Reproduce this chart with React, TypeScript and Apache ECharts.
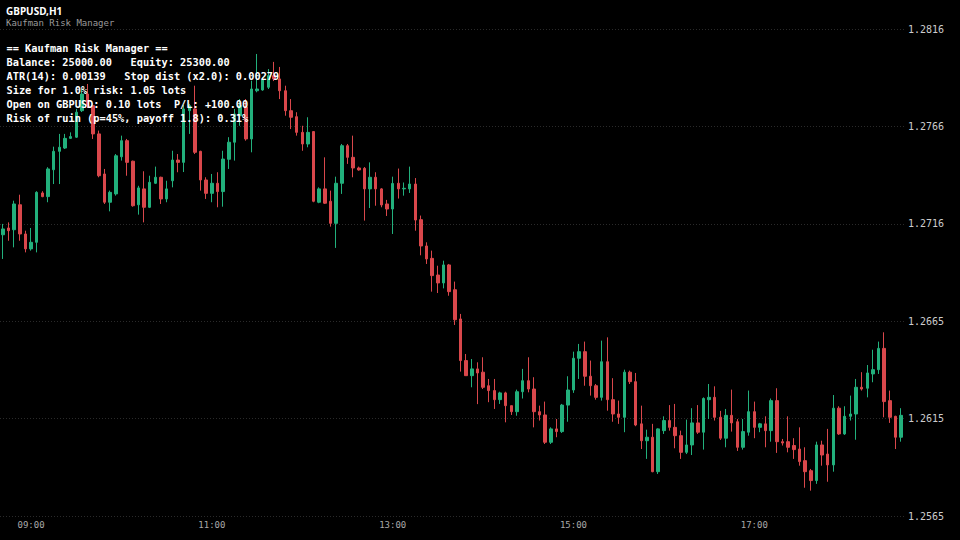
import React, { useEffect, useRef } from "react";
import * as echarts from "echarts";

const symbolTitle = "GBPUSD,H1";
const indicatorName = "Kaufman Risk Manager";
const infoLines = [
  "== Kaufman Risk Manager ==",
  "Balance: 25000.00   Equity: 25300.00",
  "ATR(14): 0.00139   Stop dist (x2.0): 0.00279",
  "Size for 1.0% risk: 1.05 lots",
  "Open on GBPUSD: 0.10 lots  P/L: +100.00",
  "Risk of ruin (p=45%, payoff 1.8): 0.31%",
];

const timeLabels = ["09:00", "11:00", "13:00", "15:00", "17:00"];
const timeLabelBars = [5, 37, 69, 101, 133];

const priceTicks = [1.25646, 1.261492, 1.266524, 1.271556, 1.276588, 1.28162];

const opens = [
  1.27099, 1.27134, 1.27125, 1.27254, 1.27103, 1.27026, 1.2706, 1.27315, 1.27296, 1.27435,
  1.2753, 1.27547, 1.27597, 1.27603, 1.2774, 1.27826, 1.27766, 1.2762, 1.27413, 1.27267,
  1.2731, 1.27502, 1.27585, 1.27479, 1.27254, 1.27336, 1.27241, 1.27365, 1.27396, 1.27284,
  1.27378, 1.27485, 1.27473, 1.2774, 1.27749, 1.2753, 1.27382, 1.27313, 1.27365, 1.27322,
  1.27489, 1.27577, 1.27714, 1.27759, 1.27594, 1.27843, 1.27847, 1.27861, 1.27921, 1.27904,
  1.27843, 1.2774, 1.27709, 1.27628, 1.27568, 1.27632, 1.27267, 1.27336, 1.27272, 1.27158,
  1.27365, 1.27559, 1.27499, 1.27444, 1.27442, 1.27336, 1.27396, 1.27336, 1.27258, 1.27232,
  1.27365, 1.27336, 1.27336, 1.27361, 1.27177, 1.27041, 1.26977, 1.26891, 1.2685, 1.26943,
  1.26815, 1.26664, 1.26449, 1.26371, 1.26406, 1.26389, 1.26319, 1.26294, 1.26247, 1.26282,
  1.26216, 1.26185, 1.26288, 1.26345, 1.26302, 1.26185, 1.26168, 1.26027, 1.26096, 1.26082,
  1.26219, 1.26297, 1.26461, 1.26495, 1.26368, 1.26319, 1.26259, 1.26443, 1.26247, 1.26173,
  1.26156, 1.26389, 1.2634, 1.26122, 1.26035, 1.26053, 1.25875, 1.26087, 1.26139, 1.26104,
  1.26061, 1.25975, 1.26013, 1.26127, 1.26079, 1.26247, 1.26259, 1.26156, 1.26048, 1.26166,
  1.26133, 1.26001, 1.26079, 1.26185, 1.26104, 1.26122, 1.26087, 1.26242, 1.2603, 1.2603,
  1.2601, 1.25992, 1.25932, 1.2588, 1.25829, 1.26013, 1.25966, 1.2591, 1.26203, 1.2607,
  1.26161, 1.26173, 1.26311, 1.26306, 1.2638, 1.26402, 1.26512, 1.26242, 1.26161, 1.26053,
];

const closes = [
  1.27129, 1.2712, 1.27258, 1.27103, 1.27026, 1.2706, 1.27318, 1.27296, 1.27439, 1.2753,
  1.27551, 1.27597, 1.27606, 1.27732, 1.27826, 1.27766, 1.2762, 1.27404, 1.27267, 1.27318,
  1.27507, 1.27585, 1.27473, 1.27249, 1.27341, 1.27241, 1.2737, 1.27396, 1.27284, 1.27336,
  1.27485, 1.27473, 1.27749, 1.27766, 1.27525, 1.27382, 1.27313, 1.27365, 1.27322, 1.2749,
  1.27577, 1.27723, 1.27766, 1.27594, 1.27852, 1.27852, 1.27899, 1.27921, 1.27904, 1.27843,
  1.2774, 1.27706, 1.27628, 1.27568, 1.27628, 1.27272, 1.27336, 1.27262, 1.27158, 1.27365,
  1.27559, 1.27499, 1.27444, 1.27434, 1.27336, 1.27396, 1.27336, 1.27253, 1.27232, 1.27364,
  1.27336, 1.27339, 1.27361, 1.27175, 1.27041, 1.26974, 1.26888, 1.2685, 1.26943, 1.26805,
  1.2666, 1.26449, 1.26371, 1.26406, 1.26385, 1.26311, 1.26294, 1.26247, 1.26282, 1.26216,
  1.26185, 1.26288, 1.26345, 1.26302, 1.26185, 1.26168, 1.26027, 1.26096, 1.26082, 1.26219,
  1.26297, 1.26461, 1.26495, 1.26368, 1.26319, 1.26259, 1.26443, 1.26247, 1.26173, 1.26156,
  1.26389, 1.2634, 1.26116, 1.26035, 1.26053, 1.25875, 1.26096, 1.26139, 1.26104, 1.26061,
  1.25975, 1.26013, 1.26127, 1.26079, 1.26253, 1.26259, 1.26156, 1.26048, 1.26166, 1.26127,
  1.26001, 1.26082, 1.26185, 1.26104, 1.26122, 1.26087, 1.26242, 1.2603, 1.26023, 1.26001,
  1.25989, 1.25927, 1.25875, 1.25829, 1.26013, 1.25961, 1.2591, 1.26203, 1.2607, 1.26161,
  1.26173, 1.26311, 1.26302, 1.26385, 1.26402, 1.26512, 1.26237, 1.26156, 1.26053, 1.26166,
];

const lows = [
  1.26974, 1.27068, 1.27034, 1.27068, 1.27008, 1.27017, 1.27008, 1.27293, 1.27267, 1.27361,
  1.27361, 1.27542, 1.27594, 1.27599, 1.27733, 1.27754, 1.27594, 1.27396, 1.27258, 1.2722,
  1.27301, 1.27482, 1.27404, 1.27244, 1.27203, 1.27163, 1.27237, 1.27361, 1.27258, 1.27267,
  1.27344, 1.27422, 1.27423, 1.2762, 1.27516, 1.27327, 1.27284, 1.27267, 1.27241, 1.27244,
  1.27439, 1.27482, 1.27662, 1.27585, 1.27525, 1.27835, 1.27843, 1.27852, 1.27893, 1.278,
  1.27714, 1.27645, 1.27611, 1.27533, 1.27551, 1.27267, 1.27262, 1.27258, 1.27141, 1.27031,
  1.2731, 1.27465, 1.27396, 1.2743, 1.27172, 1.27237, 1.27249, 1.27241, 1.27196, 1.27103,
  1.27286, 1.27301, 1.27315, 1.2712, 1.26993, 1.26948, 1.26805, 1.26798, 1.26822, 1.26784,
  1.26633, 1.26392, 1.2637, 1.26311, 1.26224, 1.26302, 1.26234, 1.26199, 1.26225, 1.2613,
  1.26168, 1.26164, 1.26253, 1.26285, 1.26104, 1.26139, 1.26018, 1.26018, 1.26053, 1.26075,
  1.26133, 1.26282, 1.26354, 1.26319, 1.26268, 1.26247, 1.26242, 1.2619, 1.26133, 1.26122,
  1.26079, 1.26328, 1.2611, 1.25992, 1.25941, 1.25872, 1.25863, 1.2607, 1.26087, 1.25996,
  1.25941, 1.25966, 1.25961, 1.2607, 1.25989, 1.26147, 1.26139, 1.26039, 1.26001, 1.26082,
  1.25982, 1.25989, 1.26061, 1.26048, 1.26079, 1.26001, 1.2603, 1.25972, 1.2601, 1.25975,
  1.25941, 1.25906, 1.25792, 1.25777, 1.25812, 1.25906, 1.25823, 1.25875, 1.26065, 1.26065,
  1.26139, 1.2604, 1.26294, 1.26259, 1.26337, 1.2638, 1.26156, 1.26127, 1.25992, 1.2603,
];

const highs = [
  1.27155, 1.27163, 1.27275, 1.27306, 1.2712, 1.27134, 1.27324, 1.27324, 1.27448, 1.27554,
  1.2762, 1.2762, 1.27628, 1.27749, 1.27852, 1.27878, 1.2778, 1.27637, 1.27439, 1.27327,
  1.27516, 1.27611, 1.27594, 1.27482, 1.27352, 1.27427, 1.27404, 1.27451, 1.27399, 1.27378,
  1.27533, 1.27516, 1.27769, 1.27775, 1.27869, 1.27533, 1.27396, 1.27413, 1.27422, 1.27533,
  1.27603, 1.27749, 1.278, 1.278, 1.27895, 1.28033, 1.27912, 1.27955, 1.27992, 1.27966,
  1.27869, 1.278, 1.27732, 1.27662, 1.27706, 1.27635, 1.27344, 1.27499, 1.27327, 1.27399,
  1.27568, 1.27568, 1.27611, 1.27451, 1.27449, 1.27473, 1.27422, 1.2734, 1.27279, 1.27399,
  1.27441, 1.27369, 1.27451, 1.27392, 1.27198, 1.2706, 1.27017, 1.26939, 1.26965, 1.26948,
  1.26857, 1.2669, 1.26483, 1.26457, 1.2644, 1.26466, 1.26354, 1.26354, 1.26288, 1.26288,
  1.26216, 1.26299, 1.26406, 1.26466, 1.26363, 1.26216, 1.26237, 1.26104, 1.26147, 1.26225,
  1.26368, 1.26495, 1.26535, 1.26547, 1.26449, 1.26328, 1.26552, 1.26569, 1.26358, 1.26242,
  1.26402, 1.26397, 1.26385, 1.26216, 1.26092, 1.26122, 1.26099, 1.26161, 1.26219, 1.26225,
  1.26087, 1.26144, 1.26203, 1.26219, 1.26259, 1.26328, 1.26316, 1.26189, 1.26199, 1.26299,
  1.26147, 1.26147, 1.26294, 1.26237, 1.26127, 1.26161, 1.26253, 1.26306, 1.26044, 1.26161,
  1.26048, 1.26104, 1.26001, 1.25889, 1.2603, 1.26035, 1.26096, 1.26271, 1.26213, 1.26213,
  1.26268, 1.26354, 1.26389, 1.26426, 1.26505, 1.26547, 1.26595, 1.26294, 1.26164, 1.26203,
];

const UP = "#22b07c";
const DOWN = "#d9474b";

export default function App() {
  const ref = useRef<HTMLDivElement>(null);

  useEffect(() => {
    if (!ref.current) return;
    const chart = echarts.init(ref.current, null, { renderer: "svg" });

    const categories = opens.map((_, i) => String(i));
    const candleData = opens.map((o, i) => [o, closes[i], lows[i], highs[i]]);

    const graphics: any[] = [
      {
        type: "text",
        x: 6,
        y: 10.5,
        z: 100,
        style: {
          text: symbolTitle,
          fill: "#ffffff",
          fontFamily: "Noto Sans",
          fontWeight: "bold",
          fontSize: 10,
          verticalAlign: "middle",
        },
      },
      {
        type: "text",
        x: 6,
        y: 22.5,
        z: 100,
        style: {
          text: indicatorName,
          fill: "#9a9a9a",
          fontFamily: "DejaVu Sans Mono",
          fontSize: 9,
          verticalAlign: "middle",
        },
      },
    ];
    infoLines.forEach((line, i) => {
      graphics.push({
        type: "text",
        x: 6.5,
        y: 47.7 + i * 14.15,
        z: 100,
        style: {
          text: line,
          fill: "#ffffff",
          fontFamily: "DejaVu Sans Mono",
          fontWeight: "bold",
          fontSize: 10.3,
          verticalAlign: "middle",
        },
      });
    });

    chart.setOption({
      animation: false,
      backgroundColor: "#000000",
      grid: { left: 0, right: 56, top: 29, bottom: 24, containLabel: false },
      xAxis: {
        type: "category",
        data: categories,
        boundaryGap: true,
        axisLine: { show: false },
        axisTick: { show: false },
        splitLine: { show: false },
        axisLabel: {
          interval: (idx: number) => timeLabelBars.indexOf(idx) >= 0,
          formatter: (_v: string, idx: number) => {
            const k = timeLabelBars.indexOf(idx);
            return k >= 0 ? timeLabels[k] : "";
          },
          color: "#a8a8a8",
          fontFamily: "DejaVu Sans Mono",
          fontSize: 9,
          margin: 4,
        },
      },
      yAxis: {
        type: "value",
        position: "right",
        min: priceTicks[0],
        max: priceTicks[priceTicks.length - 1],
        axisLine: { show: false },
        axisTick: { show: false, customValues: priceTicks },
        axisLabel: {
          customValues: priceTicks,
          formatter: (v: number) => v.toFixed(4),
          color: "#cccccc",
          fontFamily: "DejaVu Sans Mono",
          fontSize: 10,
          margin: 4,
          showMinLabel: true,
          showMaxLabel: true,
        },
        splitLine: {
          show: true,
          lineStyle: { color: "#2a2a2a", width: 1, type: [1, 2] },
        },
      },
      series: [
        {
          type: "candlestick",
          data: candleData,
          barWidth: 3,
          itemStyle: {
            color: UP,
            color0: DOWN,
            borderColor: UP,
            borderColor0: DOWN,
            borderWidth: 1,
          },
        },
      ],
      graphic: graphics,
    });

    return () => chart.dispose();
  }, []);

  return (
    <div
      ref={ref}
      style={{ position: "fixed", left: 0, top: 0, width: 960, height: 540, background: "#000" }}
    />
  );
}
